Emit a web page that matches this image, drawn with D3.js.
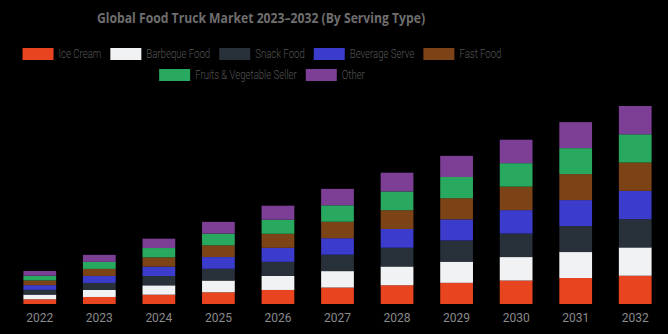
<!DOCTYPE html>
<html>
<head>
<meta charset="utf-8">
<script src="https://cdn.jsdelivr.net/npm/d3@7"></script>
<style>
    html, body { margin: 0; padding: 0; background: #000; }
    svg { display: block; }
</style>
</head>
<body>
<script>
(function(){
    // years on the x axis
    var years = ["2022", "2023", "2024", "2025", "2026", "2027", "2028", "2029", "2030", "2031", "2032"];

    // serving types, bottom to top of each stack
    var seriesNames = ["Ice Cream", "Barbeque Food", "Snack Food", "Beverage Serve", "Fast Food", "Fruits & Vegetable Seller", "Other"];
    var seriesColors = ["#e8441f", "#f1f2f4", "#283039", "#3b3bcc", "#7c4317", "#29a95f", "#7d3e96"];

    // segment values by year (USD bn, est.)
    var iceCream   = [4.7, 7.0, 9.3, 11.7, 14.0, 16.4, 18.7, 21.1, 23.4, 25.9, 28.2];
    var barbeque   = [4.7, 7.0, 9.3, 11.7, 14.0, 16.4, 18.7, 21.1, 23.4, 25.9, 28.2];
    var snackFood  = [4.7, 7.0, 9.3, 11.7, 14.0, 16.4, 18.7, 21.1, 23.4, 25.9, 28.2];
    var beverage   = [4.7, 7.0, 9.3, 11.7, 14.0, 16.4, 18.7, 21.1, 23.4, 25.9, 28.2];
    var fastFood   = [4.7, 7.0, 9.3, 11.7, 14.0, 16.4, 18.7, 21.1, 23.4, 25.9, 28.2];
    var fruitsVeg  = [4.7, 7.0, 9.3, 11.7, 14.0, 16.4, 18.7, 21.1, 23.4, 25.9, 28.2];
    var other      = [4.7, 7.0, 9.3, 11.7, 14.0, 16.4, 18.7, 21.1, 23.4, 25.9, 28.2];

    var seriesValues = [iceCream, barbeque, snackFood, beverage, fastFood, fruitsVeg, other];

    var width = 668,
        height = 334,
        baseY = 304,
        topY = 106;

    var svg = d3.select("body")
        .append("svg")
        .attr("width", width)
        .attr("height", height);

    svg.append("rect")
        .attr("width", width)
        .attr("height", height)
        .attr("fill", "#000");

    // build table rows for the stack layout
    var table = years.map(function(y, i){
        var row = { year: y };
        seriesNames.forEach(function(name, s){
            row[name] = seriesValues[s][i];
        });
        return row;
    });

    var stacked = d3.stack().keys(seriesNames)(table);

    var x = d3.scaleBand()
        .domain(years)
        .range([10, 665])
        .paddingInner(0.45)
        .paddingOuter(0.225);

    var maxTotal = d3.max(stacked[stacked.length - 1], function(d){ return d[1]; });

    var y = d3.scaleLinear()
        .domain([0, maxTotal])
        .range([baseY, topY]);

    var layers = svg.selectAll(".layer")
        .data(stacked)
        .enter()
        .append("g")
        .attr("class", "layer")
        .attr("fill", function(d, i){ return seriesColors[i]; });

    layers.selectAll("rect")
        .data(function(d){ return d; })
        .enter()
        .append("rect")
        .attr("x", function(d){ return x(d.data.year); })
        .attr("width", x.bandwidth())
        .attr("y", function(d){ return y(d[1]); })
        .attr("height", function(d){ return y(d[0]) - y(d[1]); });

    // x axis, labels only
    var xAxis = svg.append("g")
        .attr("transform", "translate(0," + baseY + ")")
        .call(d3.axisBottom(x).tickSize(0).tickPadding(9));

    xAxis.select(".domain").remove();
    xAxis.selectAll("text")
        .attr("fill", "#8a8a8a")
        .style("font-family", "Roboto, sans-serif")
        .style("font-size", "12px");

    // title, narrowed a little horizontally
    svg.append("g")
        .attr("transform", "translate(261,23) scale(0.87,1)")
        .append("text")
        .attr("text-anchor", "middle")
        .attr("fill", "#6e6e6e")
        .style("font-family", "'Open Sans', sans-serif")
        .style("font-weight", "700")
        .style("font-size", "14px")
        .text("Global Food Truck Market 2023\u20132032 (By Serving Type)");

    // legend: centred flow layout over two rows
    var legendRows = [[0, 1, 2, 3, 4], [5, 6]],
        legendCenter = 262,
        rowY = [54, 75],
        swatchW = 31,
        swatchH = 12,
        textGap = 5,
        itemGap = 9,
        squeeze = 0.8;

    var legend = svg.append("g").attr("class", "legend");

    legendRows.forEach(function(row, r){
        var items = row.map(function(s){
            var g = legend.append("g");
            g.append("rect")
                .attr("width", swatchW)
                .attr("height", swatchH)
                .attr("y", -swatchH / 2)
                .attr("fill", seriesColors[s]);
            var label = g.append("text")
                .attr("fill", "#555")
                .attr("dy", "0.35em")
                .style("font-family", "Roboto, sans-serif")
                .style("font-weight", "300")
                .style("font-size", "12px")
                .text(seriesNames[s]);
            var tw = label.node().getComputedTextLength() * squeeze;
            label.attr("transform", "translate(" + (swatchW + textGap) + ",0) scale(" + squeeze + ",1)");
            return { g: g, w: swatchW + textGap + tw };
        });

        var total = d3.sum(items, function(d){ return d.w; }) + itemGap * (items.length - 1);
        var cx = legendCenter - total / 2;
        items.forEach(function(it){
            it.g.attr("transform", "translate(" + cx + "," + rowY[r] + ")");
            cx += it.w + itemGap;
        });
    });
})();
</script>
</body>
</html>
